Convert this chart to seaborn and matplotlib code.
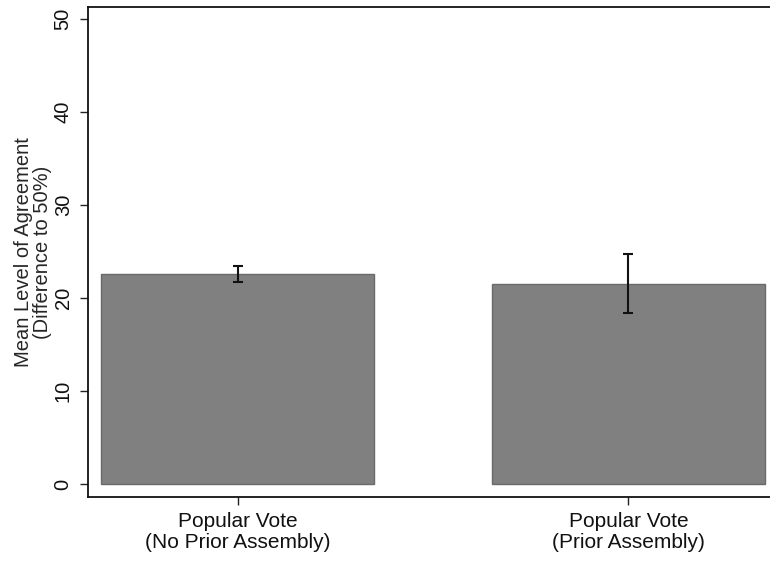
import matplotlib
matplotlib.use("Agg")
import matplotlib.pyplot as plt
import seaborn as sns
import pandas as pd

categories = ["Popular Vote\n(No Prior Assembly)", "Popular Vote\n(Prior Assembly)"]
means = [22.6, 21.5]
ci_low = [21.75, 18.4]
ci_high = [23.45, 24.75]

sns.set_theme(style="white")
plt.rcParams['font.family'] = ['Liberation Sans', 'DejaVu Sans']

df = pd.DataFrame({"cat": categories, "mean": means})

fig = plt.figure(figsize=(7.7, 5.63), dpi=100)
ax = fig.add_axes([88/770, 1-497/563, 1-88/770+0.01, (497-7)/563])

sns.barplot(data=df, x="cat", y="mean", color="#808080", saturation=1,
            width=0.7, edgecolor="#6a6a6a", linewidth=1, errorbar=None, ax=ax)

xs = range(len(categories))
yerr = [[m - l for m, l in zip(means, ci_low)], [h - m for m, h in zip(means, ci_high)]]
ax.errorbar(list(xs), means, yerr=yerr, fmt="none", ecolor="#111111",
            elinewidth=1.5, capsize=3.8, capthick=1.5)

ax.set_ylim(-1.4, 51.3)
ax.set_xlim(-0.3824, 1.3816)
ax.set_yticks([0, 10, 20, 30, 40, 50])
ax.set_yticklabels(["0", "10", "20", "30", "40", "50"], rotation=90, va="center", fontsize=14.5)
ax.set_xticks(list(xs))
ax.set_xticklabels(categories, fontsize=15, linespacing=1.1)
ax.set_xlabel("")
ax.set_ylabel("Mean Level of Agreement\n(Difference to 50%)", fontsize=14.5, linespacing=1.0, labelpad=1)
ax.tick_params(axis="both", which="both", length=6, width=1, color="#222222",
               direction="out", left=True, bottom=True, pad=5, labelcolor="#111111")
for s in ["left", "bottom", "top", "right"]:
    ax.spines[s].set_color("#111111")
    ax.spines[s].set_linewidth(1.3)

fig.savefig("out.png", dpi=100)
